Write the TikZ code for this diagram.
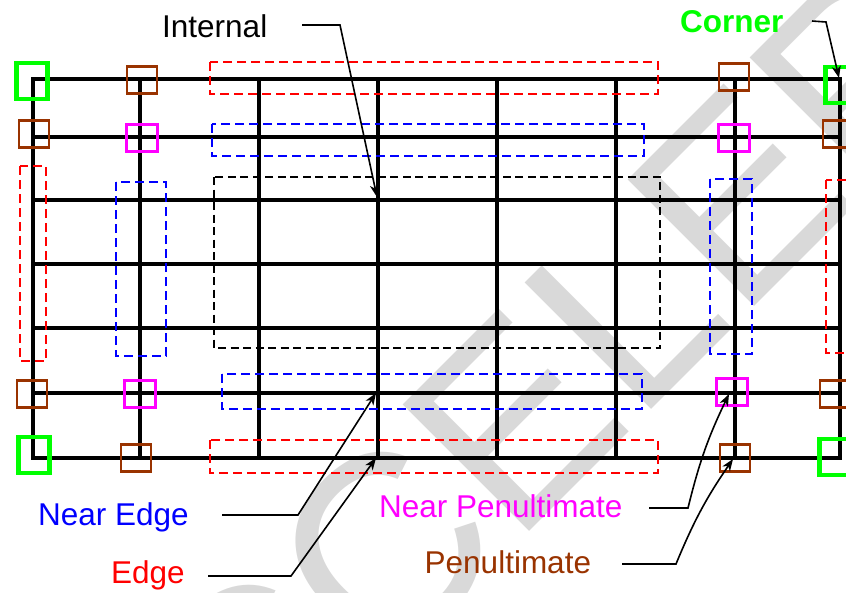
\documentclass[tikz,border=0pt]{standalone}
\usepackage{fontspec}
\setmainfont{Liberation Sans}
\usetikzlibrary{arrows.meta}
\definecolor{cgreen}{RGB}{0,255,0}
\definecolor{cbrown}{RGB}{153,51,0}
\definecolor{cmag}{RGB}{255,0,255}
\definecolor{cblue}{RGB}{0,0,255}
\definecolor{cred}{RGB}{255,0,0}
\definecolor{wm}{RGB}{217,217,217}
\tikzset{
  gridline/.style={line width=3.1pt, black},
  cornerbox/.style={draw=cgreen, line width=4.2pt, minimum width=31pt, minimum height=36pt, inner sep=0pt},
  penbox/.style={draw=cbrown, line width=2.4pt, minimum width=30pt, minimum height=27pt, inner sep=0pt},
  npenbox/.style={draw=cmag, line width=2.4pt, minimum width=31pt, minimum height=27pt, inner sep=0pt},
  region/.style={line width=1.8pt, dash pattern=on 9pt off 5pt},
  lbl/.style={anchor=base west, inner sep=0pt, font=\fontsize{31.5}{31.5}\selectfont},
  conn/.style={line width=1.6pt, black, -{Stealth[length=12pt,width=9pt,inset=3.5pt]}}
}
\begin{document}
\begin{tikzpicture}[x=1pt,y=-1pt]
\useasboundingbox (0,0) rectangle (846,592);
% watermark
\node[rotate=45, anchor=base west, text=wm, inner sep=0pt, font=\fontsize{260}{260}\selectfont] (wmark) at (126,935) {ACCELERATE};
% grid
\draw[gridline] (33,79) rectangle (840,458);
\foreach \y in {137,200,264,328,393} \draw[gridline] (33,\y) -- (840,\y);
\foreach \x in {140,259,378,497,616,735} \draw[gridline] (\x,79) -- (\x,458);
% dashed regions
\draw[region, cred] (210,62) rectangle (658,94);
\draw[region, cred] (210,440) rectangle (658,473);
\draw[region, cred] (20,166) rectangle (46,361);
\draw[region, cred] (826,180) rectangle (852,353);
\draw[region, cblue] (212,124) rectangle (644,156);
\draw[region, cblue] (222,374) rectangle (642,409);
\draw[region, cblue] (116,182) rectangle (166,356);
\draw[region, cblue] (710,179) rectangle (752,354);
\draw[region, black, dash pattern=on 8pt off 4.5pt] (214,177) rectangle (660,348);
% corner squares
\node[cornerbox] (c1) at (32,81) {};
\node[cornerbox] (c2) at (34,455) {};
\node[cornerbox] (c3) at (841,85) {};
\node[cornerbox] (c4) at (835,457) {};
% penultimate squares
\node[penbox] (p1) at (142,80) {};
\node[penbox] (p2) at (34,134) {};
\node[penbox] (p3) at (136,458) {};
\node[penbox] (p4) at (32,394) {};
\node[penbox] (p5) at (734,77) {};
\node[penbox] (p6) at (838,134) {};
\node[penbox] (p7) at (735,458) {};
\node[penbox] (p8) at (835,394) {};
% near penultimate squares
\node[npenbox] (n1) at (142,138) {};
\node[npenbox] (n2) at (140,394) {};
\node[npenbox] (n3) at (734,138) {};
\node[npenbox] (n4) at (732,392) {};
% labels
\node[lbl] (lint) at (162,37) {Internal};
\node[lbl, text=cgreen, font=\fontsize{31.5}{31.5}\selectfont\bfseries] (lcor) at (680,32) {Corner};
\node[lbl, text=cblue] (lne) at (38,525) {Near Edge};
\node[lbl, text=cred] (led) at (111,583) {Edge};
\node[lbl, text=cmag] (lnp) at (379,517) {Near Penultimate};
\node[lbl, text=cbrown] (lpen) at (424.5,573.5) {Penultimate};
% connector points
\coordinate (ints) at (302,25);  \coordinate (intk) at (340,25);  \coordinate (intt) at (377,197);
\coordinate (cors) at (812,21);  \coordinate (cork) at (826,22);  \coordinate (cort) at (839,78);
\coordinate (nes) at (222,515);  \coordinate (nek) at (298,515);  \coordinate (net) at (376,393);
\coordinate (eds) at (208,576);  \coordinate (edk) at (291,576);  \coordinate (edt) at (376,458);
\coordinate (nps) at (649,508);  \coordinate (npk) at (688,508);  \coordinate (npt) at (729,394);
\coordinate (pes) at (622,564);  \coordinate (pek) at (676,564);  \coordinate (pet) at (733,459);
\draw[conn] (ints) -- (intk) -- (intt);
\draw[conn] (cors) -- (cork) -- (cort);
\draw[conn] (nes) -- (nek) -- (net);
\draw[conn] (eds) -- (edk) -- (edt);
\draw[conn] (nps) -- (npk) to[bend left=6] (npt);
\draw[conn] (pes) -- (pek) to[bend left=6] (pet);
\end{tikzpicture}
\end{document}
